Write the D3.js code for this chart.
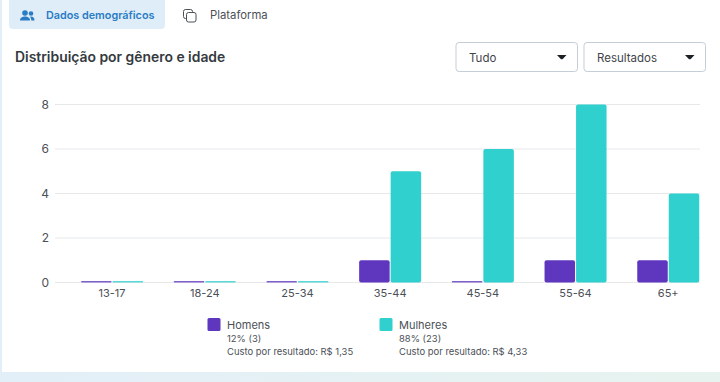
<!DOCTYPE html>
<html>
<head>
<meta charset="utf-8">
<script src="https://cdn.jsdelivr.net/npm/d3@7"></script>
<style>
html, body { margin: 0; padding: 0; background: #fff; overflow: hidden; }
text { font-family: Inter, Roboto, sans-serif; }
</style>
</head>
<body>
<div id="chart"></div>
<script>
const ageGroups = ["13-17", "18-24", "25-34", "35-44", "45-54", "55-64", "65+"];
const homens = [0, 0, 0, 1, 0, 1, 1];
const mulheres = [0, 0, 0, 5, 6, 8, 4];
const yTicks = [0, 2, 4, 6, 8];
const seriesNames = ["Homens", "Mulheres"];
const seriesColors = ["#5f37bf", "#30d0cf"];
const legendShare = ["12% (3)", "88% (23)"];
const legendCost = ["Custo por resultado: R$ 1,35", "Custo por resultado: R$ 4,33"];
const dropdowns = ["Tudo", "Resultados"];

const width = 720, height = 382;
const svg = d3.select("#chart").append("svg")
    .attr("width", width)
    .attr("height", height)
    .style("display", "block");

// page background around the card
let bg = svg.append("defs").append("linearGradient").attr("id", "bottomBg");
bg.append("stop").attr("offset", "0%").attr("stop-color", "#e3eff8");
bg.append("stop").attr("offset", "100%").attr("stop-color", "#e6f3ee");
svg.append("rect").attr("x", 0).attr("y", 372).attr("width", width).attr("height", 10)
    .attr("fill", "url(#bottomBg)");
svg.append("rect").attr("x", 0).attr("y", 0).attr("width", 2).attr("height", height)
    .attr("fill", "#e3eff8");

/////// tabs ///////
svg.append("rect").attr("x", 9).attr("y", -6).attr("width", 156).attr("height", 35)
    .attr("rx", 4).attr("fill", "#dfedf8");
let people = svg.append("g").attr("fill", "#2a7cc4");
people.append("circle").attr("cx", 25).attr("cy", 13).attr("r", 2.8);
people.append("circle").attr("cx", 31).attr("cy", 13.5).attr("r", 2.3);
people.append("path").attr("d", "M20 20.5c0-3 2.5-4 5-4s5 1 5 4z");
people.append("path").attr("d", "M31 16.5c2 0 3.5 1 3.5 4h-3.2c0-1.500-.5-3-1.300-3.800z");
svg.append("text").attr("x", 46).attr("y", 19).attr("font-size", 10.8)
    .attr("font-weight", 600).attr("fill", "#2a7cc4").text("Dados demográficos");
let copyIcon = svg.append("g").attr("fill", "#fff").attr("stroke", "#4b5057").attr("stroke-width", 1);
copyIcon.append("rect").attr("x", 183.500).attr("y", 9.500).attr("width", 9).attr("height", 9).attr("rx", 2);
copyIcon.append("rect").attr("x", 186.500).attr("y", 12.500).attr("width", 9.500).attr("height", 9.500).attr("rx", 2);
svg.append("text").attr("x", 210).attr("y", 19).attr("font-size", 11.3)
    .attr("fill", "#4b5057").text("Plataforma");

svg.append("text").attr("x", 15).attr("y", 62).attr("font-size", 13.9)
    .attr("font-weight", 600).attr("fill", "#343a40").text("Distribuição por gênero e idade");

/////// dropdowns ///////
let ddX = d3.scalePoint().domain(dropdowns).range([456, 584]);
dropdowns.forEach(function(name) {
    let g = svg.append("g").attr("transform", "translate(" + ddX(name) + ",42.500)");
    g.append("rect").attr("x", 0).attr("y", 0).attr("width", 121.500).attr("height", 29)
        .attr("rx", 3).attr("fill", "#fff").attr("stroke", "#c5cdd6");
    g.append("text").attr("x", 13).attr("y", 19).attr("font-size", 11.500)
        .attr("fill", "#3f444a").text(name);
    g.append("path").attr("d", "M101 12.500h9.500l-3.500 3.800q-1.200 1-2.500 0z").attr("fill", "#1c2025");
});

/////// chart ///////
let x = d3.scaleBand().domain(ageGroups).range([65.7, 714.6]);
let y = d3.scaleLinear().domain([0, 8]).range([282.500, 104.500]);

let grid = svg.append("g");
grid.selectAll("line").data(yTicks).enter().append("line")
    .attr("x1", 55).attr("x2", 700)
    .attr("y1", function(d) { return y(d); })
    .attr("y2", function(d) { return y(d); })
    .attr("stroke", "#e6e8ea").attr("stroke-width", 1);

let yAxis = d3.axisLeft(y).tickValues(yTicks).tickSize(0).tickPadding(0);
let yG = svg.append("g").attr("transform", "translate(49,0)").call(yAxis);
yG.select(".domain").remove();
yG.selectAll("text").attr("font-size", 12).attr("fill", "#4b5057")
    .style("font-family", "Inter, Roboto, sans-serif");

let xAxis = d3.axisBottom(x).tickSize(0).tickPadding(0);
let xG = svg.append("g").attr("transform", "translate(0,289)").call(xAxis);
xG.select(".domain").remove();
xG.selectAll("text").attr("font-size", 11).attr("fill", "#4b5057")
    .style("font-family", "Inter, Roboto, sans-serif");

const barW = 30.5, minH = 1.5;
[homens, mulheres].forEach(function(values, s) {
    svg.append("g").selectAll("rect").data(values).enter().append("rect")
        .attr("x", function(d, i) {
            return x(ageGroups[i]) + x.bandwidth() / 2 + (s === 0 ? -barW - 0.5 : 0.5);
        })
        .attr("y", function(d) { return Math.min(y(d), y(0) - minH); })
        .attr("width", barW)
        .attr("height", function(d) { return Math.max(y(0) - y(d), minH); })
        .attr("rx", function(d) { return d === 0 ? 0.7 : 2; })
        .attr("fill", seriesColors[s])
        .attr("fill-opacity", function(d) { return d === 0 ? 0.8 : 1; });
});

/////// legend ///////
let legX = d3.scalePoint().domain(seriesNames).range([207, 379]);
seriesNames.forEach(function(name, i) {
    let g = svg.append("g").attr("transform", "translate(" + legX(name) + ",0)");
    g.append("rect").attr("x", 0.5).attr("y", 318).attr("width", 13).attr("height", 13)
        .attr("rx", 1.5).attr("fill", seriesColors[i]);
    g.append("text").attr("x", 20).attr("y", 329).attr("font-size", 11).attr("fill", "#4b5057").text(name);
    g.append("text").attr("x", 20).attr("y", 342).attr("font-size", 9.450).attr("fill", "#4b5057").text(legendShare[i]);
    g.append("text").attr("x", 20).attr("y", 355).attr("font-size", 9.450).attr("fill", "#4b5057").text(legendCost[i]);
});
</script>
</body>
</html>
